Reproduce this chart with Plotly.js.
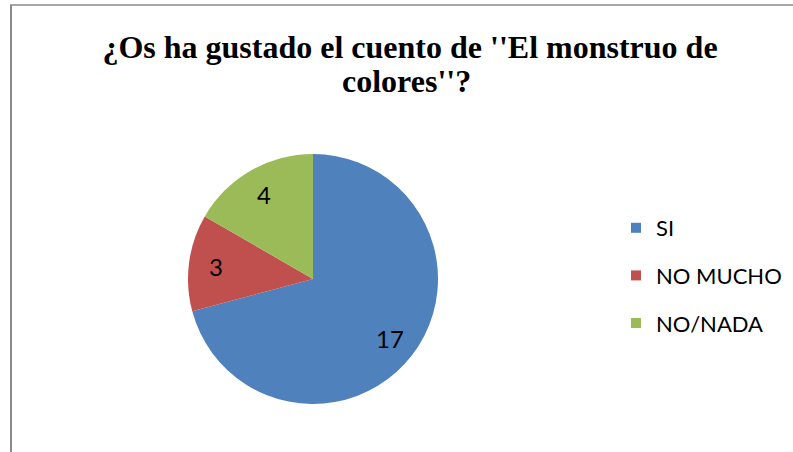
<!DOCTYPE html>
<html>
<head>
<meta charset="utf-8">
<script src="https://cdn.plot.ly/plotly-3.0.1.min.js"></script>
<style>html,body{margin:0;padding:0;background:#fff;}#chart{width:793px;height:452px;}</style>
</head>
<body>
<div id="chart"></div>
<script>
var titleLine1 = "¿Os ha gustado el cuento de ''El monstruo de";
var titleLine2 = "colores''?";
var categories = ["SI", "NO MUCHO", "NO/NADA"];
var counts = [17, 3, 4];
var sliceColors = ["#4F81BD", "#C0504D", "#9BBB59"];

var W = 793, H = 452;
var CX = 313, CY = 279, R = 125;   // pie centre / radius in px
var LABEL_R = 0.78;                // label distance as share of radius
var legendFont = {family: "Lato, 'Noto Sans', sans-serif", size: 22, color: "#000"};
var valueFont = {family: "Lato, 'Noto Sans', sans-serif", size: 24, color: "#000"};
var titleFont = {family: "'Liberation Serif', 'Times New Roman', serif", size: 32, color: "#000", weight: 700};

var traces = [{
  type: "pie",
  labels: categories,
  values: counts,
  sort: false,
  direction: "clockwise",
  rotation: 0,
  marker: {colors: sliceColors, line: {width: 0}},
  textinfo: "none",
  hoverinfo: "none",
  showlegend: false,
  domain: {x: [(CX - R) / W, (CX + R) / W], y: [(H - CY - R) / H, (H - CY + R) / H]}
}];

categories.forEach(function (c, i) {
  traces.push({
    type: "scatter", mode: "markers", x: [null], y: [null],
    name: c, legendgroup: "g" + i,
    marker: {symbol: "square", size: 10, color: sliceColors[i]},
    hoverinfo: "none"
  });
});

// value labels placed at each slice's mid-angle (clockwise from 12 o'clock)
var total = counts.reduce(function (a, b) { return a + b; }, 0);
var annotations = [{
  text: titleLine2, showarrow: false, font: titleFont,
  xref: "paper", yref: "paper", x: 406 / W, y: 1 - 81 / H, xanchor: "center", yanchor: "middle"
}];
var cum = 0;
counts.forEach(function (v) {
  var mid = (cum + v / 2) / total * 2 * Math.PI;
  cum += v;
  var px = CX + Math.sin(mid) * R * LABEL_R;
  var py = CY - Math.cos(mid) * R * LABEL_R;
  annotations.push({
    text: String(v), showarrow: false, font: valueFont,
    xref: "paper", yref: "paper", x: px / W, y: 1 - py / H, xanchor: "center", yanchor: "middle"
  });
});

var layout = {
  width: W, height: H,
  margin: {l: 0, r: 0, t: 0, b: 0},
  paper_bgcolor: "#fff", plot_bgcolor: "#fff",
  xaxis: {visible: false}, yaxis: {visible: false},
  title: {
    text: titleLine1, font: titleFont,
    x: 410 / W, xanchor: "center", xref: "paper",
    y: 1 - 47 / H, yanchor: "middle", yref: "container"
  },
  annotations: annotations,
  showlegend: true,
  legend: {
    x: 616 / W, y: 1 - 207 / H, xanchor: "left", yanchor: "top",
    font: legendFont, traceorder: "grouped", tracegroupgap: 16,
    bgcolor: "rgba(0,0,0,0)", borderwidth: 0
  },
  shapes: [
    {type: "line", xref: "paper", yref: "paper", x0: 11 / W, x1: 11 / W, y0: 0, y1: 1 - 5 / H, line: {color: "#8a8a8a", width: 2}},
    {type: "line", xref: "paper", yref: "paper", x0: 10 / W, x1: 1, y0: 1 - 5 / H, y1: 1 - 5 / H, line: {color: "#8a8a8a", width: 1.5}}
  ]
};

Plotly.newPlot("chart", traces, layout, {staticPlot: true, displayModeBar: false});
</script>
</body>
</html>
